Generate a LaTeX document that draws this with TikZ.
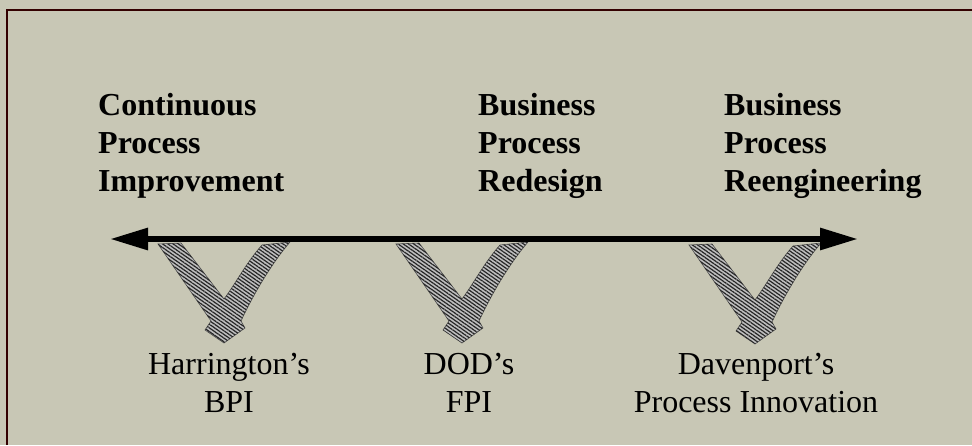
\documentclass[tikz,border=0pt]{standalone}
\usepackage{fontspec}
\setmainfont{Liberation Serif}
\usetikzlibrary{arrows.meta,patterns.meta}
\definecolor{paper}{RGB}{200,199,181}
\tikzset{
  frameline/.style={line width=1.8pt,draw=black!80!red},
  toplabel/.style={anchor=base west,align=left,inner sep=0pt,
    font=\fontsize{32}{38}\selectfont\bfseries},
  botlabel/.style={anchor=base,align=center,inner sep=0pt,
    font=\fontsize{32}{38}\selectfont},
  mainarrow/.style={line width=6pt,
    {Triangle[length=38pt,width=21pt]}-{Triangle[length=38pt,width=21pt]}},
  hatchfill/.style={fill=black!25,draw=black!70,line width=0.6pt,
    postaction={pattern={Lines[angle=-35,distance=3pt,line width=1.2pt]},pattern color=black!85}},
  vee/.pic={
    \path[hatchfill] (-66,-99) -- (-43,-100) -- (0,-44)
      .. controls (12,-60) and (22,-80) .. (38,-98) -- (66,-101)
      .. controls (48,-80) and (30,-50) .. (17,-22) -- (21,-15) -- (0,0)
      -- (-19,-13) -- (-13,-22) -- cycle;
  }
}
\begin{document}
\begin{tikzpicture}[x=1pt,y=-1pt]
\useasboundingbox (0,0) rectangle (972,445);
\fill[paper] (0,0) rectangle (972,445);
\coordinate (fb) at (7,445);
\coordinate (ft) at (7,10);
\coordinate (fr) at (972,10);
\draw[frameline] (fb) -- (ft) -- (fr);

\node[toplabel] (cpi) at (98,191) {Continuous\\Process\\Improvement};
\node[toplabel] (bpr) at (478,191) {Business\\Process\\Redesign};
\node[toplabel] (bpre) at (724,191) {Business\\Process\\Reengineering};

\pic at (224,343) {vee};
\pic at (462,343) {vee};
\pic at (755,344) {vee};

\coordinate (al) at (110,239);
\coordinate (ar) at (858,239);
\draw[mainarrow] (al) -- (ar);

\node[botlabel] (harr) at (229,412) {Harrington’s\\BPI};
\node[botlabel] (dod) at (469,412) {DOD’s\\FPI};
\node[botlabel] (dav) at (756,412) {Davenport’s\\Process Innovation};
\end{tikzpicture}
\end{document}
